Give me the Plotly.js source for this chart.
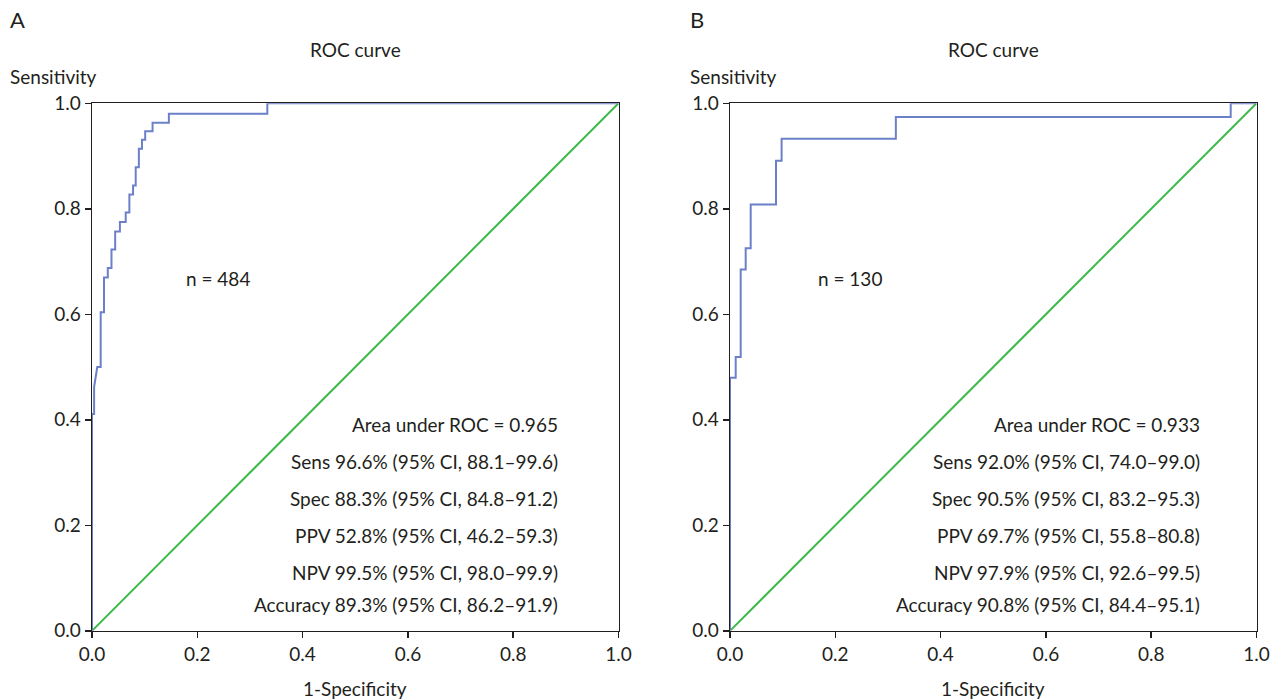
<!DOCTYPE html>
<html>
<head>
<meta charset="utf-8">
<script src="https://cdn.plot.ly/plotly-3.0.1.min.js"></script>
<style>html,body{margin:0;padding:0;background:#fff;}#chart{width:1270px;height:699px;}</style>
</head>
<body>
<div id="chart"></div>
<script>
// Panel A ROC curve (1-specificity, sensitivity)
const fprA = [0, 0, 0.004, 0.004, 0.006, 0.009, 0.010, 0.0165, 0.0165, 0.0228, 0.0228, 0.030, 0.030, 0.037, 0.037, 0.044, 0.044, 0.053, 0.053, 0.064, 0.064, 0.071, 0.071, 0.078, 0.078, 0.083, 0.083, 0.089, 0.089, 0.095, 0.095, 0.101, 0.101, 0.115, 0.115, 0.146, 0.146, 0.333, 0.333, 1.0];
const tprA = [0, 0.411, 0.411, 0.462, 0.475, 0.490, 0.500, 0.500, 0.604, 0.604, 0.670, 0.670, 0.688, 0.688, 0.723, 0.723, 0.757, 0.757, 0.775, 0.775, 0.793, 0.793, 0.827, 0.827, 0.844, 0.844, 0.879, 0.879, 0.914, 0.914, 0.931, 0.931, 0.947, 0.947, 0.963, 0.963, 0.980, 0.980, 1.0, 1.0];
// Panel B ROC curve
const fprB = [0, 0, 0.0108, 0.0108, 0.0203, 0.0203, 0.0298, 0.0298, 0.0393, 0.0393, 0.0874, 0.0874, 0.098, 0.098, 0.315, 0.315, 0.951, 0.951, 1.0];
const tprB = [0, 0.4795, 0.4795, 0.519, 0.519, 0.685, 0.685, 0.725, 0.725, 0.808, 0.808, 0.891, 0.891, 0.933, 0.933, 0.974, 0.974, 1.0, 1.0];
// Reference diagonal
const diagX = [0, 1];
const diagY = [0, 1];

const tickVals = [0, 0.2, 0.4, 0.6, 0.8, 1.0];
const tickText = ["0.0", "0.2", "0.4", "0.6", "0.8", "1.0"];

const statsA = ["Area under ROC = 0.965", "Sens 96.6% (95% CI, 88.1–99.6)", "Spec 88.3% (95% CI, 84.8–91.2)", "PPV 52.8% (95% CI, 46.2–59.3)", "NPV 99.5% (95% CI, 98.0–99.9)", "Accuracy 89.3% (95% CI, 86.2–91.9)"];
const statsB = ["Area under ROC = 0.933", "Sens 92.0% (95% CI, 74.0–99.0)", "Spec 90.5% (95% CI, 83.2–95.3)", "PPV 69.7% (95% CI, 55.8–80.8)", "NPV 97.9% (95% CI, 92.6–99.5)", "Accuracy 90.8% (95% CI, 84.4–95.1)"];
const sampleA = "n = 484";
const sampleB = "n = 130";
const panelLabels = ["A", "B"];
const plotTitle = "ROC curve";
const xTitle = "1-Specificity";
const yTitle = "Sensitivity";

const FONT = "Lato, 'Liberation Sans', sans-serif";
const FS = 19;
const TXT = "#231f20";
const BLUE = "#6b80c8";
const GREEN = "#3cb94a";

const traces = [
  {x: diagX, y: diagY, xaxis: "x", yaxis: "y", mode: "lines", line: {color: GREEN, width: 2}, hoverinfo: "skip"},
  {x: fprA, y: tprA, xaxis: "x", yaxis: "y", mode: "lines", line: {color: BLUE, width: 2}},
  {x: diagX, y: diagY, xaxis: "x2", yaxis: "y2", mode: "lines", line: {color: GREEN, width: 2}, hoverinfo: "skip"},
  {x: fprB, y: tprB, xaxis: "x2", yaxis: "y2", mode: "lines", line: {color: BLUE, width: 2}}
];

function axis(domain, anchor) {
  return {
    domain: domain, anchor: anchor, range: [0, 1], fixedrange: true,
    showgrid: false, zeroline: false, showline: true, mirror: true,
    linecolor: TXT, linewidth: 1.5,
    ticks: "outside", ticklen: 6, tickwidth: 1.5, tickcolor: TXT,
    tickvals: tickVals, ticktext: tickText,
    tickfont: {family: FONT, size: FS, color: TXT}
  };
}

const W = 1270, H = 699;
const yDom = [(H - 630.8) / H, (H - 103.3) / H];
const xDomA = [92 / W, 618.5 / W];
const xDomB = [730 / W, 1256.5 / W];

const statY = [0.392, 0.320, 0.250, 0.180, 0.110, 0.049];
const annotations = [];
function addPanel(xr, yr, stats, sample, label, leftPx, centerPx, statX, sampleX) {
  stats.forEach((s, i) => annotations.push({xref: xr, yref: yr, x: statX, y: statY[i], text: s, showarrow: false, xanchor: "right", yanchor: "middle", font: {family: FONT, size: FS, color: TXT}}));
  annotations.push({xref: xr, yref: yr, x: sampleX, y: 0.668, text: sample, showarrow: false, xanchor: "center", yanchor: "middle", font: {family: FONT, size: FS, color: TXT}});
  annotations.push({xref: "paper", yref: "paper", x: (leftPx - 2) / W, y: (H - 20) / H, text: label, showarrow: false, xanchor: "left", yanchor: "middle", font: {family: FONT, size: 22, color: TXT}});
  annotations.push({xref: "paper", yref: "paper", x: (leftPx - 2) / W, y: (H - 77) / H, text: yTitle, showarrow: false, xanchor: "left", yanchor: "middle", font: {family: FONT, size: FS, color: TXT}});
  annotations.push({xref: "paper", yref: "paper", x: centerPx / W, y: (H - 50) / H, text: plotTitle, showarrow: false, xanchor: "center", yanchor: "middle", font: {family: FONT, size: FS, color: TXT}});
  annotations.push({xref: "paper", yref: "paper", x: centerPx / W, y: (H - 688) / H, text: xTitle, showarrow: false, xanchor: "center", yanchor: "middle", font: {family: FONT, size: FS, color: TXT}});
}
addPanel("x", "y", statsA, sampleA, panelLabels[0], 10, 355, 0.889, 0.239);
addPanel("x2", "y2", statsB, sampleB, panelLabels[1], 690, 993, 0.8966, 0.228);

const layout = {
  width: W, height: H,
  margin: {l: 0, r: 0, t: 0, b: 0},
  paper_bgcolor: "#fff", plot_bgcolor: "#fff",
  showlegend: false,
  xaxis: axis(xDomA, "y"),
  yaxis: axis(yDom, "x"),
  xaxis2: axis(xDomB, "y2"),
  yaxis2: axis(yDom, "x2"),
  annotations: annotations
};

Plotly.newPlot("chart", traces, layout, {staticPlot: true, displayModeBar: false});
</script>
</body>
</html>
